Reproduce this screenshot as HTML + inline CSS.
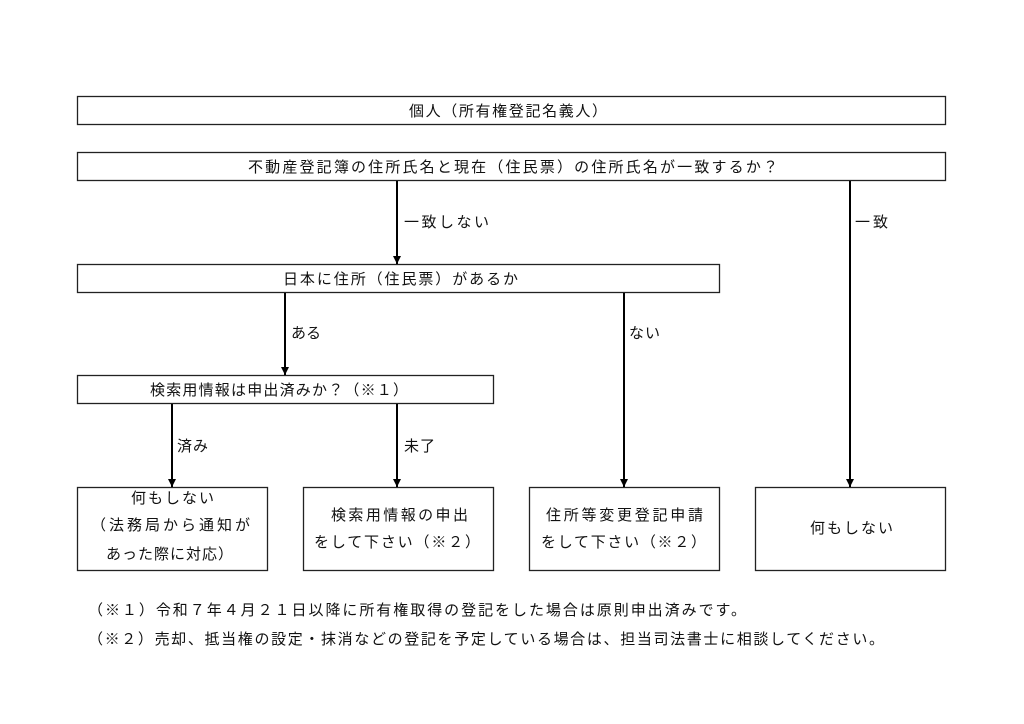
<!DOCTYPE html>
<html><head><meta charset="utf-8"><style>
html,body{margin:0;padding:0;background:#fff;}
svg{display:block;}
text{font-family:"Liberation Sans","Noto Sans CJK JP",sans-serif;font-size:15px;fill:#111;}
</style></head><body>
<svg width="1024" height="724" viewBox="0 0 1024 724" xmlns="http://www.w3.org/2000/svg">
<defs><marker id="a" markerWidth="8" markerHeight="8" refX="8" refY="4" orient="auto" markerUnits="userSpaceOnUse"><path d="M0,0 L8,4 L0,8 z" fill="#000"/></marker></defs>
<g fill="none" stroke="#222" stroke-width="1.3">
<rect x="77.5" y="96.5" width="868" height="28"/>
<rect x="77.5" y="152.5" width="868" height="28"/>
<rect x="77.5" y="264.5" width="642" height="28"/>
<rect x="77.5" y="375.5" width="416" height="28"/>
<rect x="77.5" y="487.5" width="190" height="83"/>
<rect x="303.5" y="487.5" width="190" height="83"/>
<rect x="529.5" y="487.5" width="190" height="83"/>
<rect x="755.5" y="487.5" width="190" height="83"/>
</g>
<g stroke="#000" stroke-width="2" marker-end="url(#a)">
<line x1="397" y1="181" x2="397" y2="264"/>
<line x1="850" y1="181" x2="850" y2="487"/>
<line x1="285" y1="293" x2="285" y2="375"/>
<line x1="624" y1="293" x2="624" y2="487"/>
<line x1="172" y1="404" x2="172" y2="487"/>
<line x1="397" y1="404" x2="397" y2="487"/>
</g>
<text x="409" y="116" textLength="198" lengthAdjust="spacing">個人（所有権登記名義人）</text>
<text x="248" y="172" textLength="530" lengthAdjust="spacing">不動産登記簿の住所氏名と現在（住民票）の住所氏名が一致するか？</text>
<text x="283" y="284" textLength="235" lengthAdjust="spacing">日本に住所（住民票）があるか</text>
<text x="150" y="395" textLength="258" lengthAdjust="spacing">検索用情報は申出済みか？（※１）</text>
<text x="404" y="227" textLength="85" lengthAdjust="spacing">一致しない</text>
<text x="855" y="227" textLength="33" lengthAdjust="spacing">一致</text>
<text x="291" y="338" textLength="30" lengthAdjust="spacing">ある</text>
<text x="629" y="338" textLength="31" lengthAdjust="spacing">ない</text>
<text x="177" y="451" textLength="31" lengthAdjust="spacing">済み</text>
<text x="404" y="451" textLength="31" lengthAdjust="spacing">未了</text>
<text x="131" y="503" textLength="83" lengthAdjust="spacing">何もしない</text>
<text x="91" y="530" textLength="159" lengthAdjust="spacing">（法務局から通知が</text>
<text x="106" y="559" textLength="127" lengthAdjust="spacing">あった際に対応）</text>
<text x="331" y="520" textLength="137" lengthAdjust="spacing">検索用情報の申出</text>
<text x="314" y="547" textLength="166" lengthAdjust="spacing">をして下さい（※２）</text>
<text x="546" y="520" textLength="157" lengthAdjust="spacing">住所等変更登記申請</text>
<text x="541" y="547" textLength="165" lengthAdjust="spacing">をして下さい（※２）</text>
<text x="810" y="533" textLength="83" lengthAdjust="spacing">何もしない</text>
<text x="88" y="615" textLength="658" lengthAdjust="spacing">（※１）令和７年４月２１日以降に所有権取得の登記をした場合は原則申出済みです。</text>
<text x="88" y="644" textLength="796" lengthAdjust="spacing">（※２）売却、抵当権の設定・抹消などの登記を予定している場合は、担当司法書士に相談してください。</text>
</svg>
</body></html>
